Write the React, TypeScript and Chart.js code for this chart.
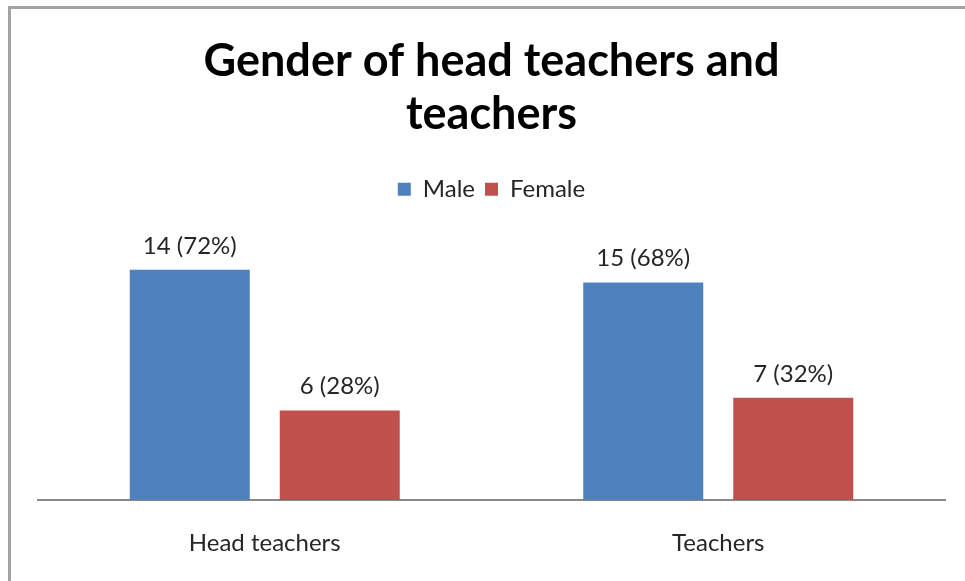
import React, { useEffect, useRef } from "react";
import { Chart, registerables } from "chart.js";

Chart.register(...registerables);

const categories = ["Head teachers", "Teachers"];
const seriesNames = ["Male", "Female"];
const malePercent = [72, 68];
const femalePercent = [28, 32];
const maleCount = [14, 15];
const femaleCount = [6, 7];
const colors = ["#4F81BD", "#C0504D"];

const FONT = "Lato, 'Open Sans', sans-serif";

const framePlugin = {
  id: "frame",
  beforeInit(chart: any) {
    const legend = chart.legend;
    if (legend && !legend.__patched) {
      const origFit = legend.fit;
      legend.fit = function () {
        origFit.call(this);
        this.height += 33;
      };
      legend.__patched = true;
    }
  },
  beforeDraw(chart: any) {
    const ctx = chart.ctx;
    ctx.save();
    ctx.fillStyle = "#ffffff";
    ctx.fillRect(0, 0, chart.width, chart.height);
    ctx.strokeStyle = "#a3a3a3";
    ctx.lineWidth = 3;
    ctx.beginPath();
    ctx.moveTo(9.5, chart.height + 5);
    ctx.lineTo(9.5, 7.5);
    ctx.lineTo(chart.width + 5, 7.5);
    ctx.stroke();
    ctx.restore();
  },
};

const labelPlugin = {
  id: "barLabels",
  afterDatasetsDraw(chart: any) {
    const ctx = chart.ctx;
    ctx.save();
    ctx.font = `24px ${FONT}`;
    ctx.fillStyle = "#262626";
    ctx.textAlign = "center";
    ctx.textBaseline = "bottom";
    chart.data.datasets.forEach((ds: any, di: number) => {
      const meta = chart.getDatasetMeta(di);
      meta.data.forEach((el: any, i: number) => {
        const count = di === 0 ? maleCount[i] : femaleCount[i];
        const pct = ds.data[i];
        ctx.fillText(`${count} (${pct}%)`, el.x, el.y - 12);
      });
    });
    ctx.restore();
  },
};

export default function App() {
  const ref = useRef<HTMLCanvasElement | null>(null);
  useEffect(() => {
    if (!ref.current) return;
    const chart = new Chart(ref.current, {
      type: "bar",
      data: {
        labels: categories,
        datasets: [
          {
            label: seriesNames[0],
            data: malePercent,
            backgroundColor: colors[0],
            categoryPercentage: 0.6615,
            barPercentage: 0.8,
          },
          {
            label: seriesNames[1],
            data: femalePercent,
            backgroundColor: colors[1],
            categoryPercentage: 0.6615,
            barPercentage: 0.8,
          },
        ],
      },
      options: {
        responsive: false,
        animation: false,
        layout: { padding: { left: 38, right: 20, top: 0, bottom: -6 } },
        plugins: {
          title: {
            display: true,
            text: ["Gender of head teachers and", "teachers"],
            color: "#000000",
            font: { family: FONT, size: 45, weight: "bold", lineHeight: 1.18 },
            padding: { top: 35, bottom: 26 },
          },
          legend: {
            display: true,
            position: "top",
            labels: {
              boxWidth: 13,
              boxHeight: 13,
              color: "#262626",
              font: { family: FONT, size: 24 },
              padding: 10,
            },
          },
          tooltip: { enabled: false },
        },
        scales: {
          x: {
            grid: { display: false, drawTicks: false },
            border: { display: true, color: "#888888", width: 2 },
            ticks: {
              color: "#262626",
              font: { family: FONT, size: 24 },
              padding: 29,
            },
          },
          y: {
            display: false,
            min: 0,
            max: 80,
          },
        },
      },
      plugins: [framePlugin, labelPlugin],
    });
    return () => chart.destroy();
  }, []);
  return (
    <div style={{ position: "fixed", left: 0, top: 0, width: 965, height: 581 }}>
      <canvas ref={ref} width={965} height={581} />
    </div>
  );
}
